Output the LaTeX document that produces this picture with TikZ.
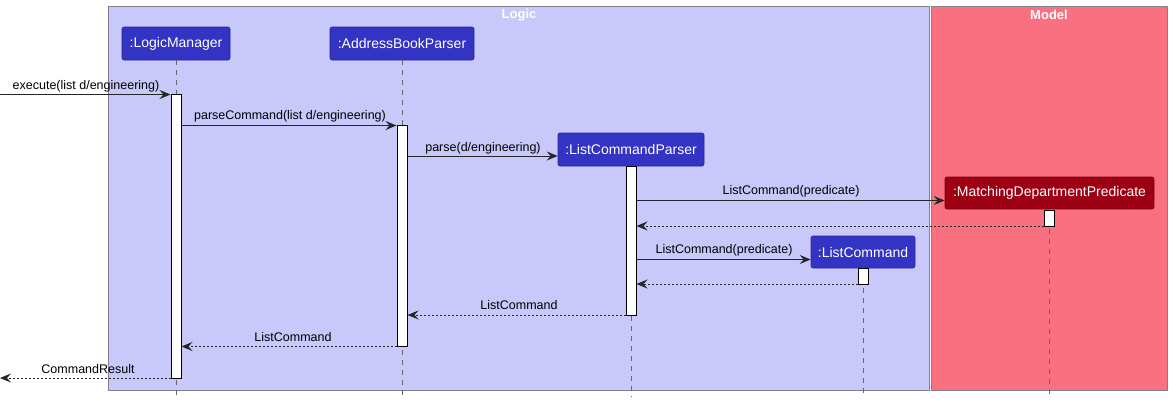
\documentclass[tikz,border=0pt]{standalone}
\usepackage{fontspec}
\setmainfont{Liberation Sans}
\usetikzlibrary{arrows.meta}
\definecolor{logicC}{HTML}{3333C4}
\definecolor{logicT}{HTML}{C8C8FA}
\definecolor{modelC}{HTML}{9D0012}
\definecolor{modelT}{HTML}{F97181}
\definecolor{frameline}{HTML}{7F7F8F}
\begin{document}
\begin{tikzpicture}[x=1pt,y=-1pt,
  part/.style={rectangle, rounded corners=2pt, fill=logicC, draw=logicC!80!black, line width=0.6pt,
    text=white, font=\fontsize{14}{16}\selectfont, inner sep=0pt, minimum height=33pt},
  mpart/.style={part, fill=modelC, draw=modelC!80!black},
  actbar/.style={rectangle, fill=white, draw=black, line width=1pt, minimum width=10pt, inner sep=0pt},
  life/.style={draw=black!60, line width=0.8pt, dash pattern=on 5pt off 5pt},
  msg/.style={draw=black!85, line width=1pt, -{Stealth[length=11pt,width=9pt,inset=4pt]}},
  ret/.style={msg, dash pattern=on 2pt off 2pt},
  lbl/.style={font=\fontsize{12.5}{14}\selectfont, text=black, inner sep=0pt, anchor=base},
  ftitle/.style={font=\bfseries\fontsize{13}{15}\selectfont, text=white, inner sep=0pt}
]
\useasboundingbox (0,0) rectangle (1173,402);
\fill[white] (0,0) rectangle (1173,402);
% frames
\draw[fill=logicT, draw=frameline, line width=1pt] (108.5,6.5) rectangle (929.5,390);
\draw[fill=modelT, draw=frameline, line width=1pt] (931,6.5) rectangle (1167.5,390);
\node[ftitle] (tlogic) at (519,15) {Logic};
\node[ftitle] (tmodel) at (1049,15) {Model};
% participants
\node[part, minimum width=108pt] (lm) at (176,43.5) {:LogicManager};
\node[part, minimum width=144pt] (abp) at (402,43.5) {:AddressBookParser};
\node[part, minimum width=146pt] (lcp) at (631,149.5) {:ListCommandParser};
\node[mpart, minimum width=209pt, minimum height=32pt] (mdp) at (1049.5,193) {:MatchingDepartmentPredicate};
\node[part, minimum width=104pt, minimum height=32pt] (lc) at (863,252) {:ListCommand};
% lifelines
\coordinate (lmEnd) at (176,397);
\coordinate (abpEnd) at (402,397);
\coordinate (lcpEnd) at (631,397);
\coordinate (mdpEnd) at (1049.5,397);
\coordinate (lcEnd) at (863,397);
\draw[life] (lm.south) -- (lmEnd);
\draw[life] (abp.south) -- (abpEnd);
\draw[life] (lcp.south) -- (lcpEnd);
\draw[life] (mdp.south) -- (mdpEnd);
\draw[life] (lc.south) -- (lcEnd);
% activation bars
\node[actbar, minimum height=284pt] (aLM) at (176,236) {};
\node[actbar, minimum height=221pt] (aAB) at (402,235.5) {};
\node[actbar, minimum height=149pt] (aLCP) at (631,240.5) {};
\node[actbar, minimum height=16pt] (aMDP) at (1049.5,218) {};
\node[actbar, minimum height=16pt] (aLC) at (863,276) {};
% external endpoints
\coordinate (inA) at (0,94.5);
\coordinate (outA) at (0,378);
% messages
\draw[msg] (inA) -- (aLM.west |- inA);
\node[lbl] (l1) at (86,89) {execute(list d/engineering)};
\draw[msg] (aLM.east |- 0,125.5) -- (aAB.west |- 0,125.5);
\node[lbl] (l2) at (290,119) {parseCommand(list d/engineering)};
\draw[msg] (aAB.east |- 0,156) -- (lcp.west |- 0,156);
\node[lbl] (l3) at (483,151) {parse(d/engineering)};
\draw[msg] (aLCP.east |- 0,200.5) -- (mdp.west |- 0,200.5);
\node[lbl] (l4) at (791,194) {ListCommand(predicate)};
\draw[ret] (aMDP.west |- 0,226) -- (aLCP.east |- 0,226);
\draw[msg] (aLCP.east |- 0,259.5) -- (lc.west |- 0,259.5);
\node[lbl] (l6) at (724,253) {ListCommand(predicate)};
\draw[ret] (aLC.west |- 0,284) -- (aLCP.east |- 0,284);
\draw[ret] (aLCP.west |- 0,315) -- (aAB.east |- 0,315);
\node[lbl] (l8) at (519,309) {ListCommand};
\draw[ret] (aAB.west |- 0,346.5) -- (aLM.east |- 0,346.5);
\node[lbl] (l9) at (293,341) {ListCommand};
\draw[ret] (aLM.west |- outA) -- (outA);
\node[lbl] (l10) at (88,373) {CommandResult};
\end{tikzpicture}
\end{document}
